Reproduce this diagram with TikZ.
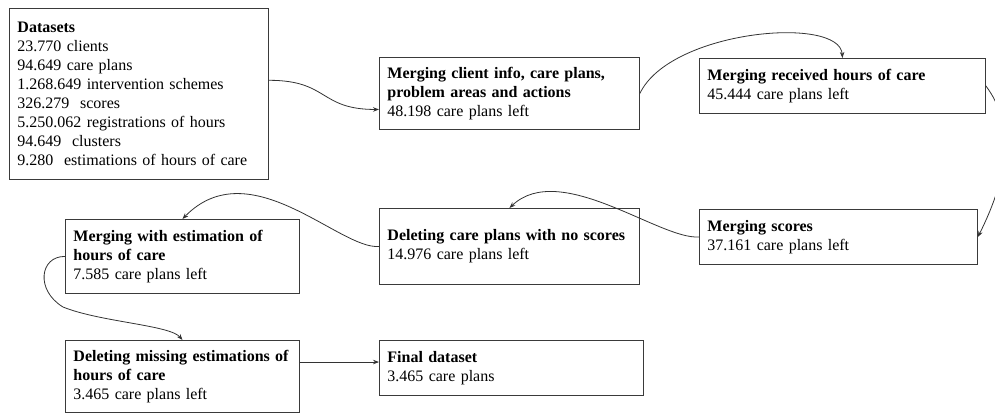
\documentclass[tikz,border=0pt]{standalone}
\usepackage{fontspec}
\setmainfont{Liberation Serif}
\usetikzlibrary{arrows.meta}
\definecolor{flowLine}{HTML}{333333}
\definecolor{flowBox}{HTML}{3A3A3A}

\begin{document}
\begin{tikzpicture}[
    x=1pt,y=-1pt,>=Stealth,
    every node/.style={font=\fontsize{16}{19}\selectfont,align=left},
    stepbox/.style={draw=flowBox,line width=0.9pt,anchor=north west,inner xsep=8pt,inner ysep=4pt},
    flow/.style={-{Stealth[length=6pt,width=4.5pt]},draw=flowLine,line width=0.8pt}
]
\useasboundingbox (0,0) rectangle (995,415);

% first row
\node[stepbox,text width=243pt,minimum height=171pt] (data) at (9,8) {\textbf{Datasets}\\23.770 clients\\94.649 care plans\\1.268.649 intervention schemes\\326.279~ scores\\5.250.062 registrations of hours\\94.649~ clusters\\9.280~ estimations of hours of care};
\node[stepbox,text width=244pt,minimum height=72pt] (mergeinfo) at (379,57) {\textbf{Merging client info, care plans,}\\\textbf{problem areas and actions}\\48.198 care plans left};
\node[stepbox,text width=270pt,minimum height=55pt] (mergehours) at (699,58) {\textbf{Merging received hours of care}\\45.444 care plans left};

% second row
\node[stepbox,text width=262pt,minimum height=55pt] (mergescores) at (699,209) {\textbf{Merging scores}\\37.161 care plans left};
\node[stepbox,text width=244pt,minimum height=76pt] (delscores) at (379,208) {\textbf{Deleting care plans with no scores}\\14.976 care plans left};
\node[stepbox,text width=218pt,minimum height=74pt] (mergeest) at (65,219) {\textbf{Merging with estimation of}\\\textbf{hours of care}\\7.585 care plans left};

% third row
\node[stepbox,text width=218pt,minimum height=72pt] (delest) at (65,340) {\textbf{Deleting missing estimations of}\\\textbf{hours of care}\\3.465 care plans left};
\node[stepbox,text width=248pt,minimum height=55pt] (final) at (379,340) {\textbf{Final dataset}\\3.465 care plans};

\draw[flow] (data.6) .. controls +(60,0) and +(-60,0) .. (mergeinfo.187);
\draw[flow] (mergeinfo.east) .. controls (670,30) and (840,15) .. (mergehours.north);
\draw[flow] (mergehours.east) .. controls +(30,40) and +(30,-60) .. (mergescores.east);
\draw[flow] (mergescores.west) .. controls (660,240) and (560,160) .. (delscores.north);
\draw[flow] (delscores.west) .. controls (340,250) and (250,150) .. (mergeest.north);
\draw[flow] (mergeest.west) .. controls (40,256) and (35,290) .. (63,307) .. controls (100,322) and (170,325) .. (delest.north);
\draw[flow] (delest.7) -- (delest.7 -| final.west);
\end{tikzpicture}
\end{document}
